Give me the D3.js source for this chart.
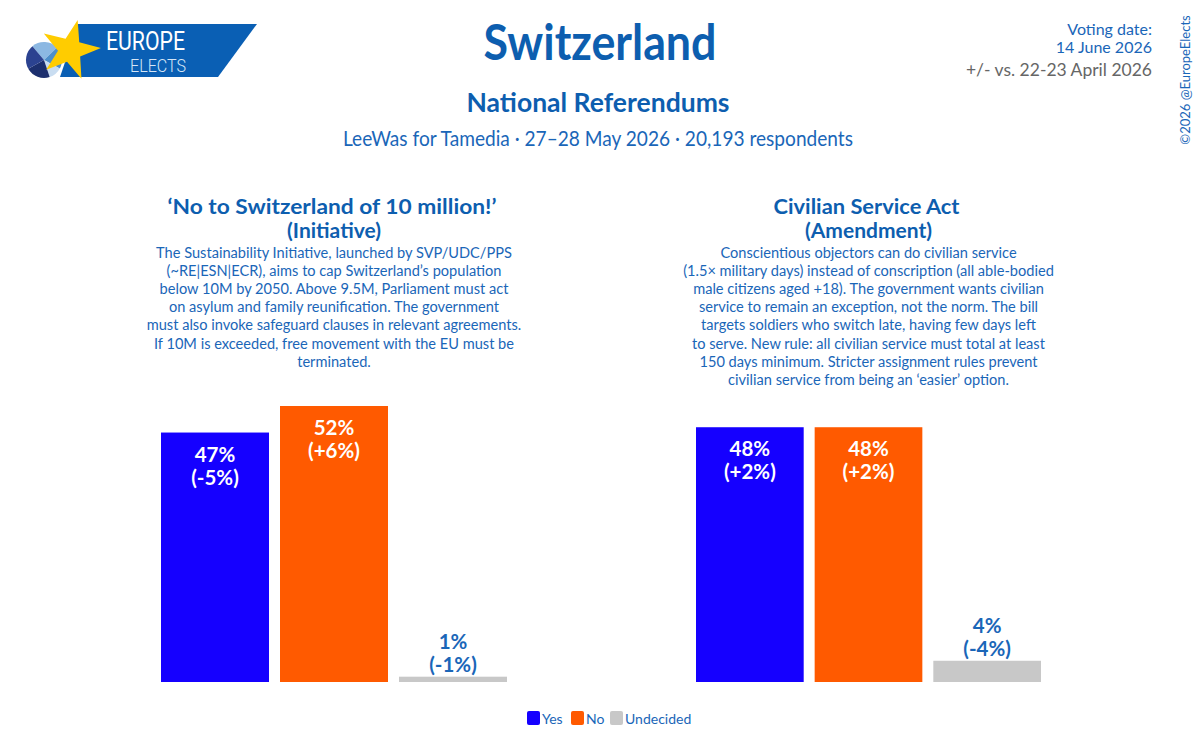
<!DOCTYPE html>
<html>
<head>
<meta charset="utf-8">
<script src="https://cdn.jsdelivr.net/npm/d3@7"></script>
<style>
  html, body { margin: 0; padding: 0; background: #fff; }
  svg { display: block; font-family: Lato, "Open Sans", sans-serif; }
</style>
</head>
<body>
<svg id="chart" width="1200" height="756"></svg>
<script>
// poll data
var options = ["Yes", "No", "Undecided"];
var optionColors = ["#1500ff", "#ff5a00", "#c8c8c8"];

var referendumTitles = ["\u2018No to Switzerland of 10 million!\u2019", "Civilian Service Act"];
var referendumTypes = ["(Initiative)", "(Amendment)"];

var initiativeShares = [47, 52, 1];
var initiativeChanges = ["-5%", "+6%", "-1%"];
var amendmentShares = [48, 48, 4];
var amendmentChanges = ["+2%", "+2%", "-4%"];

var initiativeText = [
    "The Sustainability Initiative, launched by SVP/UDC/PPS",
    "(~RE|ESN|ECR), aims to cap Switzerland\u2019s population",
    "below 10M by 2050. Above 9.5M, Parliament must act",
    "on asylum and family reunification. The government",
    "must also invoke safeguard clauses in relevant agreements.",
    "If 10M is exceeded, free movement with the EU must be",
    "terminated."
];
var amendmentText = [
    "Conscientious objectors can do civilian service",
    "(1.5\u00d7 military days) instead of conscription (all able-bodied",
    "male citizens aged +18). The government wants civilian",
    "service to remain an exception, not the norm. The bill",
    "targets soldiers who switch late, having few days left",
    "to serve. New rule: all civilian service must total at least",
    "150 days minimum. Stricter assignment rules prevent",
    "civilian service from being an \u2018easier\u2019 option."
];

var BLUE = "#0d5eaf";
var TEXT_BLUE = "#1a66b8";

var svg = d3.select("#chart");

// ---- logo ----
var logo = svg.append("g").attr("class", "logo");
logo.append("path")
    .attr("d", "M78,24 L257,24 L218,77 L60,77 Z")
    .attr("fill", "#0a5fb4");
var pie = d3.pie().sort(null)([24, 20, 12, 22, 22]);
var pieArc = d3.arc().innerRadius(0).outerRadius(18);
var pieColors = ["#8cb8e2", "#4f8fca", "#c9ddf1", "#1c2f6e", "#2b4290"];
logo.append("g").attr("transform", "translate(44,60) rotate(-40)")
    .selectAll("path").data(pie).enter().append("path")
    .attr("d", pieArc)
    .attr("fill", function(d, i) { return pieColors[i]; });
var starPts = d3.range(10).map(function(i) {
    var r = i % 2 === 0 ? 31 : 12;
    var a = -Math.PI / 2 + 0.25 + i * Math.PI / 5;
    return [70 + r * Math.cos(a), 50 + r * Math.sin(a)];
});
logo.append("polygon")
    .attr("points", starPts.map(function(p) { return p.join(","); }).join(" "))
    .attr("fill", "#ffcc00");
logo.append("text").attr("x", 106).attr("y", 50)
    .attr("fill", "#fff").attr("font-size", 25).attr("font-family", "Roboto")
    .attr("textLength", 79).attr("lengthAdjust", "spacingAndGlyphs")
    .text("EUROPE");
logo.append("text").attr("x", 130).attr("y", 72)
    .attr("fill", "#d6e6f6").attr("font-size", 19).attr("font-family", "Roboto")
    .attr("font-weight", 300)
    .attr("textLength", 56).attr("lengthAdjust", "spacingAndGlyphs")
    .text("ELECTS");

// ---- header ----
svg.append("text").attr("x", 600).attr("y", 60)
    .attr("text-anchor", "middle").attr("fill", BLUE)
    .attr("font-size", 50).attr("font-weight", 700)
    .attr("textLength", 233).attr("lengthAdjust", "spacingAndGlyphs")
    .text("Switzerland");
svg.append("text").attr("x", 598).attr("y", 112)
    .attr("text-anchor", "middle").attr("fill", BLUE)
    .attr("font-size", 26).attr("font-weight", 700)
    .attr("textLength", 263).attr("lengthAdjust", "spacingAndGlyphs")
    .text("National Referendums");
svg.append("text").attr("x", 598).attr("y", 146)
    .attr("text-anchor", "middle").attr("fill", TEXT_BLUE)
    .attr("font-size", 22)
    .attr("textLength", 510).attr("lengthAdjust", "spacingAndGlyphs")
    .text("LeeWas for Tamedia \u00b7 27\u201328 May 2026 \u00b7 20,193 respondents");

var info = svg.append("g").attr("text-anchor", "end").attr("font-size", 16);
info.append("text").attr("x", 1152).attr("y", 35).attr("fill", TEXT_BLUE).text("Voting date:");
info.append("text").attr("x", 1152).attr("y", 53).attr("fill", TEXT_BLUE).text("14 June 2026");
info.append("text").attr("x", 1152).attr("y", 76).attr("fill", "#666").attr("font-size", 17.5)
    .text("+/- vs. 22-23 April 2026");

svg.append("text")
    .attr("transform", "translate(1190,80) rotate(-90)")
    .attr("text-anchor", "middle").attr("fill", TEXT_BLUE).attr("font-size", 13)
    .text("\u00a92026 @EuropeElects");

// ---- panels ----
var y = d3.scaleLinear().domain([0, 52]).range([682, 406]);

var panels = [
    { title: referendumTitles[0], type: referendumTypes[0], text: initiativeText,
      shares: initiativeShares, changes: initiativeChanges, range: [161, 507], titleW: 329 },
    { title: referendumTitles[1], type: referendumTypes[1], text: amendmentText,
      shares: amendmentShares, changes: amendmentChanges, range: [696, 1041], titleW: 186 }
];

panels.forEach(function(p) {
    var x = d3.scaleBand().domain(options).range(p.range).paddingInner(0.0924).paddingOuter(0);
    var cx = (p.range[0] + p.range[1]) / 2;
    var g = svg.append("g");

    g.append("text").attr("x", cx - 2).attr("y", 214)
        .attr("text-anchor", "middle").attr("fill", BLUE)
        .attr("font-size", 20).attr("font-weight", 700)
        .attr("textLength", p.titleW).attr("lengthAdjust", "spacingAndGlyphs")
        .text(p.title);
    g.append("text").attr("x", cx).attr("y", 238)
        .attr("text-anchor", "middle").attr("fill", BLUE)
        .attr("font-size", 21).attr("font-weight", 700)
        .text(p.type);

    g.append("g").selectAll("text").data(p.text).enter().append("text")
        .attr("x", cx)
        .attr("y", function(d, i) { return 258 + i * 18.1; })
        .attr("text-anchor", "middle").attr("fill", TEXT_BLUE)
        .attr("font-size", 14.6)
        .text(function(d) { return d; });

    var bars = g.selectAll("g.bar").data(options).enter().append("g").attr("class", "bar");
    bars.append("rect")
        .attr("x", function(d) { return x(d); })
        .attr("width", x.bandwidth())
        .attr("y", function(d, i) { return y(p.shares[i]); })
        .attr("height", function(d, i) { return y(0) - y(p.shares[i]); })
        .attr("fill", function(d, i) { return optionColors[i]; });

    bars.each(function(d, i) {
        var inside = y(0) - y(p.shares[i]) > 60;
        var top = y(p.shares[i]);
        var lx = x(d) + x.bandwidth() / 2;
        var lines = [p.shares[i] + "%", "(" + p.changes[i] + ")"];
        var y0 = inside ? top + 29 : top - 28;
        d3.select(this).selectAll("text.lbl").data(lines).enter().append("text")
            .attr("class", "lbl")
            .attr("x", lx)
            .attr("y", function(t, j) { return y0 + j * 23; })
            .attr("text-anchor", "middle")
            .attr("fill", inside ? "#fff" : TEXT_BLUE)
            .attr("font-size", 20.5).attr("font-weight", 700)
            .text(function(t) { return t; });
    });
});

// ---- legend ----
var legend = svg.append("g").attr("font-size", 14);
var legendX = [527, 571, 610];
options.forEach(function(o, i) {
    legend.append("rect").attr("x", legendX[i]).attr("y", 711)
        .attr("width", 13).attr("height", 14).attr("rx", 2)
        .attr("fill", optionColors[i]);
    legend.append("text").attr("x", legendX[i] + 15).attr("y", 724)
        .attr("fill", TEXT_BLUE).text(o);
});
</script>
</body>
</html>
